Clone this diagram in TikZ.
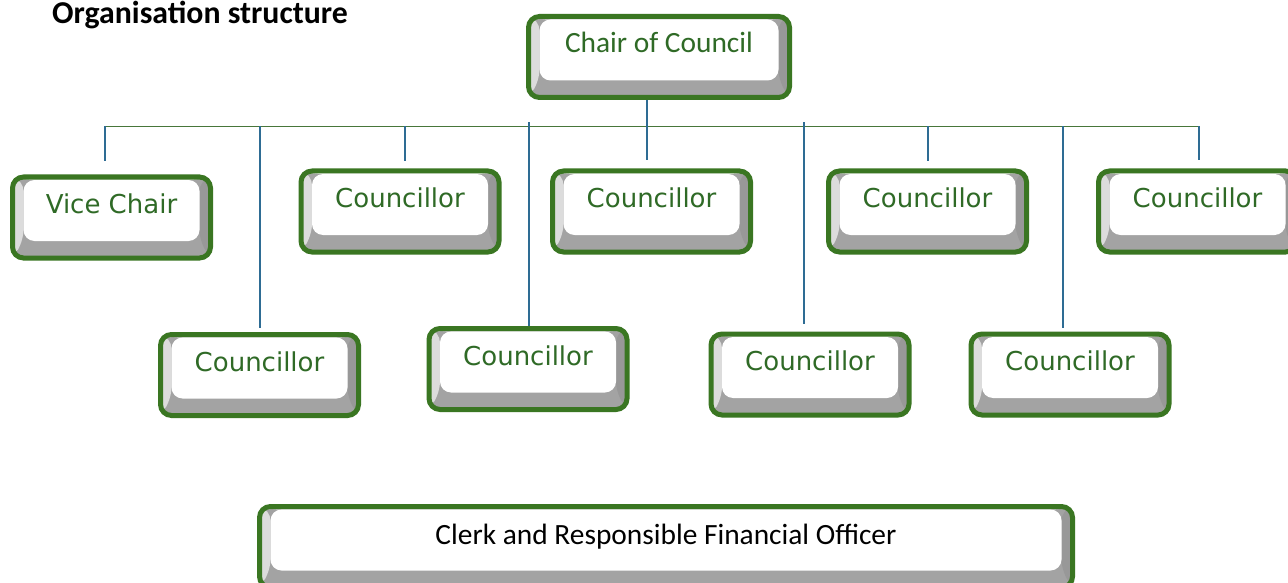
\documentclass[tikz,border=0pt]{standalone}
\usepackage{fontspec}
\setmainfont{Carlito}
\newfontfamily\boxfont{DejaVu Sans}
\usetikzlibrary{calc}
\pgfdeclarelayer{background}
\pgfsetlayers{background,main}
\definecolor{keygreen}{RGB}{58,118,34}
\definecolor{txtgreen}{RGB}{47,106,38}
\definecolor{busgreen}{RGB}{72,118,58}
\definecolor{connblue}{RGB}{46,108,148}
\definecolor{bevL}{RGB}{220,220,220}
\definecolor{bevR}{RGB}{152,152,152}
\definecolor{bevB}{RGB}{163,163,163}
\definecolor{bevT}{RGB}{244,244,244}
\newcommand{\kt}[1]{\raisebox{4pt}[0pt][0pt]{#1}}
\tikzset{
  keybox/.style={rectangle, rounded corners=11pt, draw=keygreen, line width=5pt,
    inner sep=0pt, minimum width=198pt, minimum height=81pt,
    font=\boxfont\fontsize{26}{31}\selectfont, text=txtgreen,
    path picture={
      \coordinate (kNW) at (path picture bounding box.north west);
      \coordinate (kNE) at (path picture bounding box.north east);
      \coordinate (kSW) at (path picture bounding box.south west);
      \coordinate (kSE) at (path picture bounding box.south east);
      \fill[bevB] (kSW) rectangle (kNE);
      \fill[bevT] (kNW) -- (kNE) -- ($(kNE)+(-11,-3)$) -- ($(kNW)+(11,-3)$) -- cycle;
      \fill[bevL] (kNW) -- ($(kNW)+(11,-3)$) -- ($(kSW)+(11,17)$) -- (kSW) -- cycle;
      \fill[bevR] (kNE) -- ($(kNE)+(-11,-3)$) -- ($(kSE)+(-11,17)$) -- (kSE) -- cycle;
      \fill[white] ($(kNW)+(11,-3)$) rectangle ($(kSE)+(-11,17)$);
    }},
  cfont/.style={font=\fontsize{29.4}{34}\selectfont},
  conn/.style={draw=connblue, line width=1.2pt},
  bus/.style={draw=busgreen, line width=1.2pt},
}
\begin{document}
\begin{tikzpicture}[x=1pt, y=1pt]
\useasboundingbox (0,0) rectangle (1288,-583);
\clip (0,0) rectangle (1288,-583);
\begin{pgfonlayer}{background}
\fill[white] (0,0) rectangle (1288,-583);
\end{pgfonlayer}

% bus and drop coordinates
\coordinate (d0) at (647,-126.5);
\coordinate (dv) at (105,-126.5);
\coordinate (d1) at (260,-126.5);
\coordinate (d2) at (405,-126.5);
\coordinate (d3) at (529,-126.5);
\coordinate (d4) at (804,-126.5);
\coordinate (d5) at (928,-126.5);
\coordinate (d6) at (1063,-126.5);
\coordinate (d7) at (1199,-126.5);

% boxes
\path
  node[keybox, cfont, minimum width=261pt] (chair) at (659,-57) {\kt{Chair of Council}}
  node[keybox] (vc) at (111.5,-217.5) {\kt{Vice Chair}}
  node[keybox] (c1) at (400,-211.5) {\kt{Councillor}}
  node[keybox] (c2) at (651.5,-211.5) {\kt{Councillor}}
  node[keybox] (c3) at (927.5,-211.5) {\kt{Councillor}}
  node[keybox] (c4) at (1197.5,-211.5) {\kt{Councillor}}
  node[keybox] (c5) at (259.5,-375) {\kt{Councillor}}
  node[keybox] (c6) at (528,-369) {\kt{Councillor}}
  node[keybox] (c7) at (810,-374.5) {\kt{Councillor}}
  node[keybox] (c8) at (1070,-374.5) {\kt{Councillor}}
  node[keybox, cfont, text=black, minimum width=813pt] (clerk) at (666,-547) {\raisebox{3pt}[0pt][0pt]{Clerk and Responsible Financial Officer}};

\node[anchor=base west, font=\bfseries\fontsize{31.8}{36}\selectfont, inner sep=0pt] (title) at (52,-24) {Organisation structure};

% connectors (under the boxes)
\begin{pgfonlayer}{background}
\draw[bus] (dv) -- (d7);
\draw[conn, shorten >=8.5pt] (d0 |- chair.south) -- (d0 |- c2.north);
\draw[conn, shorten >=13.5pt] (dv) -- (dv |- vc.north);
\draw[conn, shorten >=4.5pt] (d1) -- (d1 |- c5.north);
\draw[conn, shorten >=7.5pt] (d2) -- (d2 |- c1.north);
\draw[conn] ([yshift=4pt]d3) -- (d3 |- c6.north);
\draw[conn, shorten >=8pt] ([yshift=4pt]d4) -- (d4 |- c7.north);
\draw[conn, shorten >=7.5pt] (d5) -- (d5 |- c3.north);
\draw[conn, shorten >=4pt] (d6) -- (d6 |- c8.north);
\draw[conn, shorten >=8.5pt] (d7) -- (d7 |- c4.north);
\end{pgfonlayer}
\end{tikzpicture}
\end{document}
